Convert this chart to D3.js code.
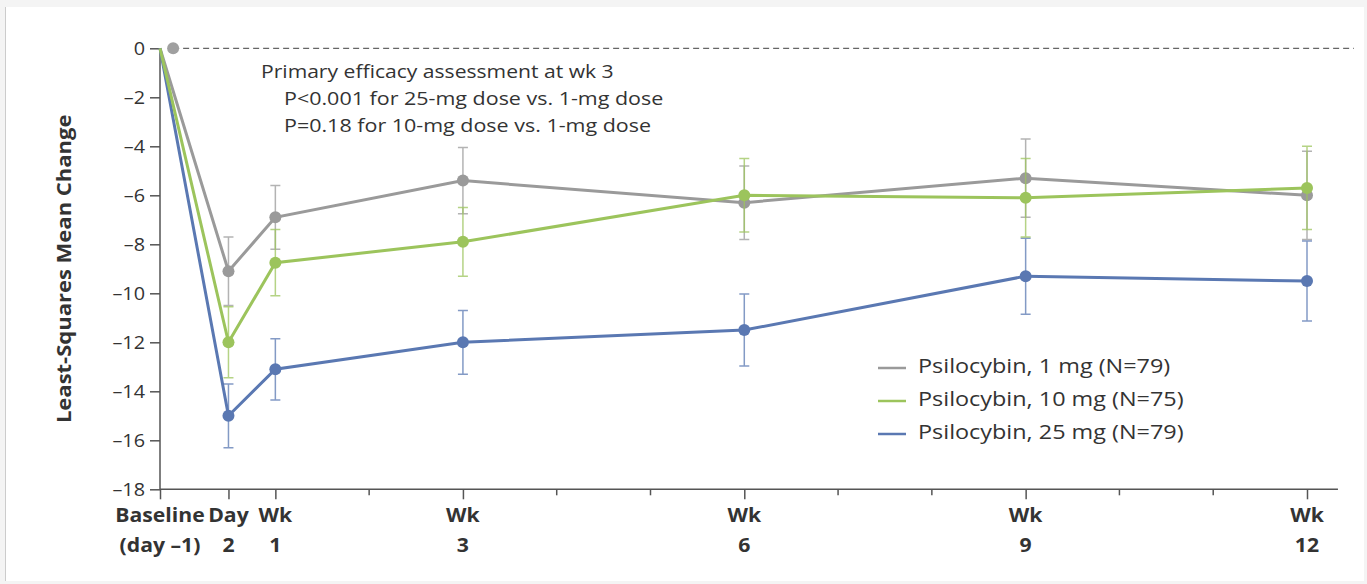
<!DOCTYPE html>
<html lang="en">
<head>
    <meta charset="UTF-8">
    <script src="https://d3js.org/d3.v7.min.js"></script>
    <title>Least-Squares Mean Change</title>
    <style>
        body { margin: 0; background: #f4f4f4; }
        text { font-family: "Open Sans", sans-serif; fill: #333; }
        .axis path, .axis line { stroke: #555; stroke-width: 1.5; }
        .tick-label { font-size: 18px; }
        .x-label { font-size: 20px; font-weight: bold; }
    </style>
</head>
<body>
    <div id="chart"></div>
    <script>
// visits, in weeks (baseline = day -1, day 2)
const visitWeeks = [-0.23, 0.5, 1, 3, 6, 9, 12];
const visitLabels = [["Baseline", "(day \u20131)"], ["Day", "2"], ["Wk", "1"], ["Wk", "3"], ["Wk", "6"], ["Wk", "9"], ["Wk", "12"]];
const minorWeeks = [2, 4, 5, 7, 8, 10, 11];

const seriesNames = ["Psilocybin, 1 mg (N=79)", "Psilocybin, 10 mg (N=75)", "Psilocybin, 25 mg (N=79)"];
const mean1 = [0, -9.1, -6.9, -5.4, -6.3, -5.3, -6.0];
const se1 = [0, 1.4, 1.3, 1.35, 1.5, 1.6, 1.8];
const mean10 = [0, -12.0, -8.75, -7.9, -6.0, -6.1, -5.7];
const se10 = [0, 1.45, 1.35, 1.4, 1.5, 1.6, 1.7];
const mean25 = [0, -15.0, -13.1, -12.0, -11.5, -9.3, -9.5];
const se25 = [0, 1.3, 1.25, 1.3, 1.47, 1.55, 1.63];

const yTicks = [0, -2, -4, -6, -8, -10, -12, -14, -16, -18];
const refLine = [-0.09, 12.5];

const annotation = [
    "Primary efficacy assessment at wk 3",
    "P<0.001 for 25-mg dose vs. 1-mg dose",
    "P=0.18 for 10-mg dose vs. 1-mg dose"
];

const colors = ["#9a9a9a", "#9cc45c", "#5a78b2"];

// the reference type is a little wider than Open Sans
function stretch(sel, f = 1.1) {
    sel.each(function () {
        const w = this.getComputedTextLength();
        d3.select(this)
            .attr("textLength", w * f)
            .attr("lengthAdjust", "spacingAndGlyphs");
    });
}

const W = 1367, H = 584;
const svg = d3.select("#chart").append("svg")
    .attr("width", W)
    .attr("height", H);

// white panel
svg.append("rect")
    .attr("x", 5).attr("y", 7)
    .attr("width", W - 8).attr("height", H - 10)
    .attr("fill", "#fff");
svg.append("line")
    .attr("x1", 5.5).attr("x2", 5.5).attr("y1", 7).attr("y2", H - 3)
    .attr("stroke", "#ccc");

const x = d3.scaleLinear()
    .domain([-0.23, 12])
    .range([160, 1307]);

const y = d3.scaleLinear()
    .domain([-18, 0])
    .range([489.3, 48.3]);

const xEnd = 12.33;

// reference dashed line at 0
svg.append("line")
    .attr("x1", x(refLine[0])).attr("x2", x(refLine[1]))
    .attr("y1", y(0)).attr("y2", y(0))
    .attr("stroke", "#666")
    .attr("stroke-width", 1.3)
    .attr("stroke-dasharray", "6,4");
svg.append("circle")
    .attr("cx", x(refLine[0])).attr("cy", y(0))
    .attr("r", 6)
    .attr("fill", "#a0a0a0");

// y axis
const yAxis = svg.append("g")
    .attr("class", "axis")
    .attr("transform", `translate(${x(-0.23)},0)`)
    .call(d3.axisLeft(y).tickValues(yTicks).tickSize(10).tickSizeOuter(0)
        .tickFormat(d => d === 0 ? "0" : "\u2013" + Math.abs(d)));
yAxis.selectAll("text").attr("class", "tick-label").attr("dx", "-2").attr("fill", "#333");
yAxis.select(".domain").attr("d", `M0,${y(0)}V${y(-18)}`);
stretch(yAxis.selectAll("text"));

// x axis
const xAxis = svg.append("g")
    .attr("class", "axis")
    .attr("transform", `translate(0,${y(-18)})`)
    .call(d3.axisBottom(x).tickValues(visitWeeks).tickSize(10).tickSizeOuter(0).tickFormat(""));
xAxis.select(".domain").attr("d", `M${x(-0.23)},0H${x(xEnd)}`);

xAxis.selectAll(".minor")
    .data(minorWeeks)
    .enter().append("line")
    .attr("x1", d => x(d)).attr("x2", d => x(d))
    .attr("y1", 0).attr("y2", 6);

[0, 1].forEach(row => {
    const t = svg.append("g").selectAll("text")
        .data(visitWeeks)
        .enter().append("text")
        .attr("class", "x-label")
        .attr("text-anchor", "middle")
        .attr("x", d => x(d))
        .attr("y", y(-18) + 33 + row * 30)
        .text((d, i) => visitLabels[i][row]);
    stretch(t, 1.06);
});

// y label
stretch(svg.append("text")
    .attr("class", "x-label")
    .attr("text-anchor", "middle")
    .attr("transform", `translate(71,${(y(0) + y(-18)) / 2})  rotate(-90)`)
    .text("Least-Squares Mean Change"));

// series
const series = [
    { name: seriesNames[0], mean: mean1, se: se1, color: colors[0] },
    { name: seriesNames[1], mean: mean10, se: se10, color: colors[1] },
    { name: seriesNames[2], mean: mean25, se: se25, color: colors[2] }
];
const drawOrder = [0, 2, 1];

const line = d3.line()
    .x(d => x(d.week))
    .y(d => y(d.value));

drawOrder.forEach(k => {
    const s = series[k];
    const pts = visitWeeks.map((w, i) => ({ week: w, value: s.mean[i], se: s.se[i] }));
    const g = svg.append("g");
    const bars = pts.filter(p => p.se > 0);
    g.selectAll(".err")
        .data(bars)
        .enter().append("path")
        .attr("d", p => `M${x(p.week) - 5},${y(p.value + p.se)}H${x(p.week) + 5}` +
            `M${x(p.week)},${y(p.value + p.se)}V${y(p.value - p.se)}` +
            `M${x(p.week) - 5},${y(p.value - p.se)}H${x(p.week) + 5}`)
        .attr("fill", "none")
        .attr("stroke", s.color)
        .attr("stroke-opacity", 0.75)
        .attr("stroke-width", 1.5);
    g.append("path")
        .datum(pts)
        .attr("d", line)
        .attr("fill", "none")
        .attr("stroke", s.color)
        .attr("stroke-width", 3);
    g.selectAll("circle")
        .data(bars)
        .enter().append("circle")
        .attr("cx", p => x(p.week))
        .attr("cy", p => y(p.value))
        .attr("r", 6)
        .attr("fill", s.color);
});

// annotation
annotation.forEach((t, i) => {
    stretch(svg.append("text")
        .attr("x", i === 0 ? 261 : 284)
        .attr("y", 78 + i * 27)
        .style("font-size", "19px")
        .text(t), i === 0 ? 1.11 : 1.13);
});

// legend
const legend = svg.append("g").attr("transform", "translate(878,368)");
series.forEach((s, i) => {
    const row = legend.append("g").attr("transform", `translate(0,${i * 33})`);
    row.append("line")
        .attr("x1", 0).attr("x2", 28)
        .attr("stroke", s.color)
        .attr("stroke-width", 2.5);
    stretch(row.append("text")
        .attr("x", 40)
        .attr("y", 5)
        .style("font-size", "20px")
        .text(s.name), 1.17);
});
    </script>
</body>
</html>
